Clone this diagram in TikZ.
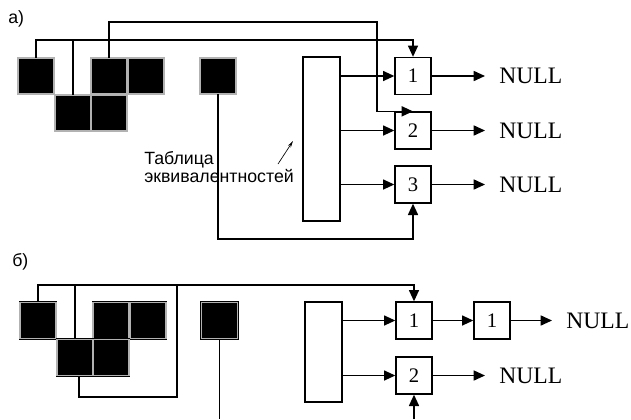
\documentclass[tikz,border=0pt]{standalone}
\usepackage{fontspec}
\setmainfont{Liberation Serif}
\setsansfont{Liberation Sans}
\usetikzlibrary{arrows.meta,calc}
\tikzset{
  cell/.style={draw=black,line width=0.4pt,double=gray!60,double distance=0.9pt,
               fill=black,minimum size=27pt,inner sep=0pt},
  tbl/.style={draw,line width=1pt,fill=white,minimum width=27.75pt,inner sep=0pt},
  bucket/.style={draw,line width=1pt,fill=white,minimum width=27pt,minimum height=27.75pt,
                 inner sep=0pt,font=\fontsize{15.5}{16}\selectfont},
  nul/.style={anchor=west,inner xsep=10.5pt,inner ysep=0pt,font=\fontsize{17.7}{18}\selectfont},
  wire/.style={line width=1.2pt},
  arr/.style={wire,-{Triangle[length=8.5pt,width=7.5pt]}},
  lbl/.style={font=\sffamily\fontsize{13.3}{13.5}\selectfont,inner sep=0pt}
}
\begin{document}
\begin{tikzpicture}[x=0.75pt,y=-0.75pt]
 \useasboundingbox[fill=white] (0,0) rectangle (631,419);
 % a) before
 \node[lbl,anchor=base west] (ta) at (8,23) {а)};
 \node[cell] (sa1) at (36,76) {};
 \node[cell] (sa2) at (73,113) {};
 \node[cell] (sa3) at (109,76) {};
 \node[cell] (sa4) at (146,76) {};
 \node[cell] (sa5) at (109,113) {};
 \node[cell] (sa6) at (218,76) {};
 \node[tbl,minimum height=123pt] (tabA) at (321.5,139) {};
 \node[bucket] (ba1) at (413,76) {1};
 \node[bucket] (ba2) at (413,130.5) {2};
 \node[bucket] (ba3) at (413,184.5) {3};
 \node[nul] (na1) at (485,76) {NULL};
 \node[nul] (na2) at (485,130.5) {NULL};
 \node[nul] (na3) at (485,184.5) {NULL};
 \node[lbl,anchor=north west,align=left] (eqv) at (144,151) {Таблица\\эквивалентностей};
 \coordinate (ya) at (0,40);
 \coordinate (ka) at (377,22);
 \coordinate (la) at (300,239);
 \draw[arr] (sa1.north) -- (sa1.north |- ya) -| (ba1.north);
 \draw[wire] (sa2.north) -- (sa2.north |- ya);
 \draw[arr] (sa3.north) |- (ka) |- (ba2.north);
 \draw[arr] (sa6.south) |- (la) -| (ba3.south);
 \foreach \b in {ba1,ba2,ba3} \draw[arr] (tabA.east |- \b.west) -- (\b.west);
 \draw[arr] (ba1.east) -- (na1.west);
 \draw[arr] (ba2.east) -- (na2.west);
 \draw[arr] (ba3.east) -- (na3.west);
 \coordinate (pa) at (278,164);
 \coordinate (pb) at (293,141);
 \draw[line width=0.5pt,-{Stealth[length=5pt,width=2.5pt]}] (pa) -- (pb);
 % b) after
 \node[lbl,anchor=base west] (tb) at (12,266) {б)};
 \node[cell] (sb1) at (38,320.5) {};
 \node[cell] (sb2) at (75,357.5) {};
 \node[cell] (sb3) at (111,320.5) {};
 \node[cell] (sb4) at (148,320.5) {};
 \node[cell] (sb5) at (111,357.5) {};
 \node[cell] (sb6) at (219.5,320.5) {};
 \node[tbl,minimum height=75pt] (tabB) at (323.5,352) {};
 \node[bucket] (bb1) at (414,320.5) {1};
 \node[bucket] (bc1) at (492,320.5) {1};
 \node[bucket] (bb2) at (414,375.5) {2};
 \node[nul] (nb1) at (552,320.5) {NULL};
 \node[nul] (nb2) at (485,375.5) {NULL};
 \coordinate (yb) at (0,285);
 \coordinate (kb) at (177,285);
 \coordinate (mb) at (177,397);
 \coordinate (eb) at (219.5,419);
 \coordinate (fb) at (414,419);
 \draw[arr] (sb1.north) -- (sb1.north |- yb) -| (bb1.north);
 \draw[wire] (sb2.north) -- (sb2.north |- yb);
 \draw[wire] (kb) -- (mb) -| ([xshift=3pt]sb2.south);
 \draw[wire] (sb6.south) -- (eb);
 \draw[arr] (fb) -- (bb2.south);
 \draw[arr] (tabB.east |- bb1.west) -- (bb1.west);
 \draw[arr] (tabB.east |- bb2.west) -- (bb2.west);
 \draw[arr] (bb1.east) -- (bc1.west);
 \draw[arr] (bc1.east) -- (nb1.west);
 \draw[arr] (bb2.east) -- (nb2.west);
\end{tikzpicture}
\end{document}
